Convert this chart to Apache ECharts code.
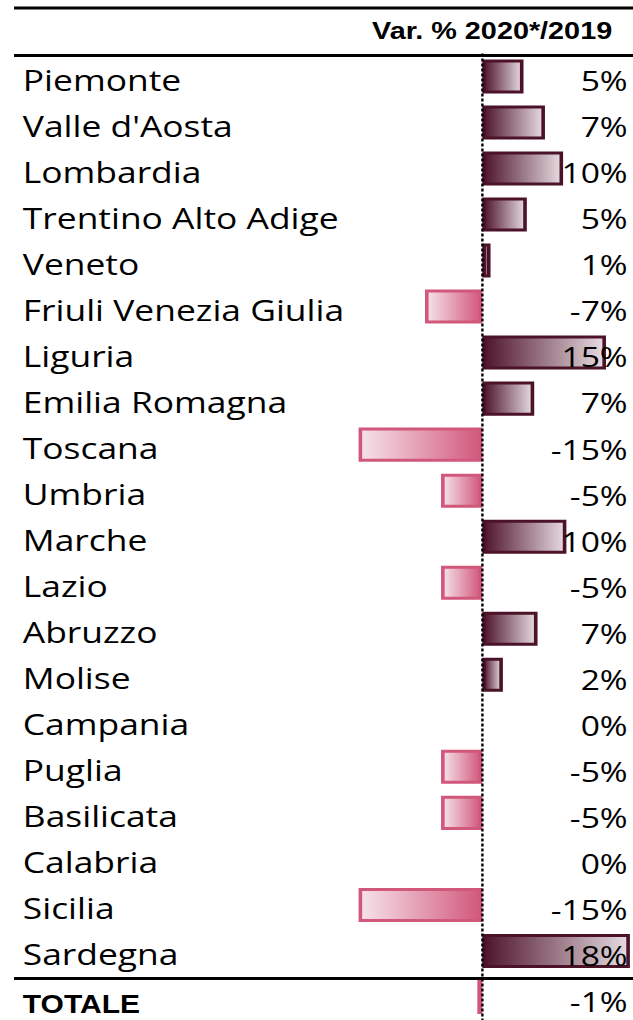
<!DOCTYPE html>
<html>
<head>
<meta charset="utf-8">
<script src="https://cdn.jsdelivr.net/npm/echarts@6/dist/echarts.min.js"></script>
<style>
  html, body { margin: 0; padding: 0; background: #fff; overflow: hidden; }
  #chart { width: 527.5px; height: 1020px; transform: scaleX(1.2); transform-origin: 0 0; }
</style>
</head>
<body>
<div id="chart"></div>
<script>
// ---- data ----
const regions = [
  'Piemonte', "Valle d'Aosta", 'Lombardia', 'Trentino Alto Adige', 'Veneto',
  'Friuli Venezia Giulia', 'Liguria', 'Emilia Romagna', 'Toscana', 'Umbria',
  'Marche', 'Lazio', 'Abruzzo', 'Molise', 'Campania', 'Puglia', 'Basilicata',
  'Calabria', 'Sicilia', 'Sardegna', 'TOTALE'
];
const values = [
  5.0, 7.6, 9.8, 5.4, 1.0,
  -6.95, 15.0, 6.3, -15.0, -5.0,
  10.2, -5.0, 6.7, 2.5, 0, -5.0, -5.0,
  0, -15.0, 17.9, -0.6
];
const pctLabels = [
  '5%', '7%', '10%', '5%', '1%',
  '-7%', '15%', '7%', '-15%', '-5%',
  '10%', '-5%', '7%', '2%', '0%', '-5%', '-5%',
  '0%', '-15%', '18%', '-1%'
];
const headerText = 'Var. % 2020*/2019';

// ---- styles ----
const posStyle = {
  color: { type: 'linear', x: 0, y: 0, x2: 1, y2: 0,
    colorStops: [{ offset: 0, color: '#4e1429' }, { offset: 1, color: '#e6dbe0' }] },
  borderColor: '#4b1229', borderWidth: 3
};
const negStyle = {
  color: { type: 'linear', x: 0, y: 0, x2: 1, y2: 0,
    colorStops: [{ offset: 0, color: '#f6e3ea' }, { offset: 1, color: '#d2587c' }] },
  borderColor: '#d1577b', borderWidth: 3
};
const barData = values.map(v => ({
  value: v,
  itemStyle: v === 0 ? { borderWidth: 0, color: 'transparent' } : (v > 0 ? posStyle : negStyle)
}));

const lastIdx = regions.length - 1;
const chart = echarts.init(document.getElementById('chart'), null, { renderer: 'svg' });
chart.setOption({
  animation: false,
  backgroundColor: '#ffffff',
  title: {
    text: headerText,
    right: 17.8,
    top: 19,
    padding: 0,
    textStyle: { fontFamily: 'Liberation Sans', fontWeight: 'bold', fontSize: 24, color: '#000' }
  },
  grid: { left: 278.2, right: 2.4, top: 53.4, height: 971, containLabel: false },
  xAxis: {
    type: 'value', min: -18, max: 18, show: false
  },
  yAxis: [
    {
      type: 'category', data: regions, inverse: true, position: 'left', z: 5,
      axisLine: { show: false, onZero: false }, axisTick: { show: false }, splitLine: { show: false },
      axisLabel: {
        interval: 0, align: 'left', margin: 259.2, color: '#000',
        fontFamily: 'Open Sans', fontSize: 29.5,
        formatter: (v, i) => i === lastIdx ? '{t|' + v + '}' : '{n|' + v + '}',
        rich: {
          n: { fontFamily: 'Open Sans', fontSize: 29.5, color: '#000', padding: [6, 0, 0, 0] },
          t: { fontFamily: 'Liberation Sans', fontWeight: 'bold', fontSize: 25, color: '#000', padding: [14, 0, 0, 0] }
        }
      }
    },
    {
      type: 'category', data: regions, inverse: true, position: 'right', z: 5,
      axisLine: { show: false, onZero: false }, axisTick: { show: false }, splitLine: { show: false },
      axisLabel: {
        interval: 0, align: 'right', margin: -2.6, color: '#000',
        fontFamily: 'Open Sans', fontSize: 28,
        formatter: (v, i) => '{v|' + pctLabels[i] + '}',
        rich: { v: { fontFamily: 'Open Sans', fontSize: 28, color: '#000', padding: [8, 0, 0, 0] } }
      }
    }
  ],
  series: [{
    type: 'bar',
    data: barData,
    barWidth: '74%',
    yAxisIndex: 0,
    z: 2,
    markLine: {
      silent: true, symbol: 'none', label: { show: false },
      lineStyle: { color: '#000', width: 2, type: [3, 2] },
      data: [{ xAxis: 0 }]
    }
  }],
  graphic: [
    { type: 'line', shape: { x1: 11.7, y1: 8, x2: 527.5, y2: 8 }, style: { stroke: '#000', lineWidth: 3 } },
    { type: 'line', shape: { x1: 11.7, y1: 55.5, x2: 527.5, y2: 55.5 }, style: { stroke: '#000', lineWidth: 3 } },
    { type: 'line', shape: { x1: 11.7, y1: 978.5, x2: 527.5, y2: 978.5 }, style: { stroke: '#000', lineWidth: 3 } }
  ]
});
</script>
</body>
</html>
